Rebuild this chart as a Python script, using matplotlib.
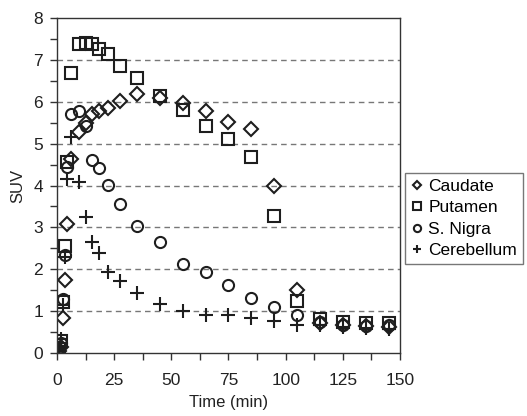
import numpy as np
import matplotlib
matplotlib.use("Agg")
import matplotlib.pyplot as plt
from matplotlib.ticker import MultipleLocator

plt.rcParams['font.family'] = ['Liberation Sans', 'DejaVu Sans']

# ── Data (time in min, SUV) ────────────────────────────────────────────────────
time_min = [0.25, 1, 2, 2.75, 3.5, 4.5, 6, 9.5, 12.5, 15.5, 18.5, 22.5, 27.5,
            35, 45, 55, 65, 75, 85, 95, 105, 115, 125, 135, 145]

caudate = [0.02, 0.05, 0.15, 0.83, 1.75, 3.08, 4.63, 5.28, 5.5, 5.7, 5.78, 5.85,
           6.02, 6.18, 6.08, 5.97, 5.78, 5.52, 5.36, 4.0, 1.5, 0.72, 0.68, 0.65, 0.62]
putamen = [0.03, 0.1, 0.3, 1.22, 2.55, 4.55, 6.69, 7.37, 7.4, 7.37, 7.26, 7.13,
           6.86, 6.57, 6.14, 5.8, 5.42, 5.1, 4.67, 3.27, 1.25, 0.82, 0.75, 0.73, 0.72]
s_nigra = [0.02, 0.08, 0.25, 1.3, 2.35, 4.45, 5.71, 5.78, 5.42, 4.61, 4.42, 4.01,
           3.55, 3.03, 2.66, 2.12, 1.94, 1.62, 1.31, 1.1, 0.9, 0.75, 0.68, 0.65, 0.68]
cerebellum = [0.05, 0.12, 0.35, 1.15, 2.3, 4.15, 5.15, 4.09, 3.26, 2.66, 2.39, 1.93,
              1.73, 1.43, 1.17, 1.0, 0.92, 0.92, 0.83, 0.77, 0.68, 0.68, 0.62, 0.6, 0.57]

series = [
    ("Caudate",    caudate,    "D", 6.8),
    ("Putamen",    putamen,    "s", 8.0),
    ("S. Nigra",   s_nigra,    "o", 8.0),
    ("Cerebellum", cerebellum, "+", 9.5),
]

INK = "#1e1e1e"
TXT = "#222222"

fig = plt.figure(figsize=(5.27, 4.16), dpi=100)
ax = fig.add_axes([0.108, 0.151, 0.651, 0.806])

for label, vals, mk, ms in series:
    ax.plot(time_min, vals, linestyle="none", marker=mk, markersize=ms,
            markerfacecolor="none" if mk != "+" else INK,
            markeredgecolor=INK, markeredgewidth=1.5, label=label)

# ── Axes styling ──────────────────────────────────────────────────────────────
ax.set_xlim(0, 150)
ax.set_ylim(0, 8)
ax.xaxis.set_major_locator(MultipleLocator(25))
ax.xaxis.set_minor_locator(MultipleLocator(12.5))
ax.yaxis.set_major_locator(MultipleLocator(1))
ax.yaxis.set_minor_locator(MultipleLocator(0.5))
ax.tick_params(which="both", direction="out", length=5, width=1, color="#333333",
               labelsize=12.5, labelcolor=TXT)
ax.tick_params(axis="x", pad=9)
ax.tick_params(axis="y", pad=5)
for s in ax.spines.values():
    s.set_color("#333333")
    s.set_linewidth(1.0)

for yv in range(1, 8):
    ax.axhline(yv, color="#777777", linestyle=(0, (4, 3)), linewidth=1.0, zorder=0)

ax.set_xlabel("Time (min)", fontsize=12, color=TXT, labelpad=5)
ax.set_ylabel("SUV", fontsize=12, color=TXT, labelpad=6)

leg = fig.legend(loc="upper left", bbox_to_anchor=(0.768, 0.585),
                 borderaxespad=0, fontsize=12.5, markerscale=0.65,
                 handlelength=0.7, handletextpad=0.3, labelspacing=0.36,
                 borderpad=0.35, fancybox=False, frameon=True)
leg.get_frame().set_edgecolor("#555555")
leg.get_frame().set_linewidth(1.0)

fig.savefig("out.png", dpi=100)
